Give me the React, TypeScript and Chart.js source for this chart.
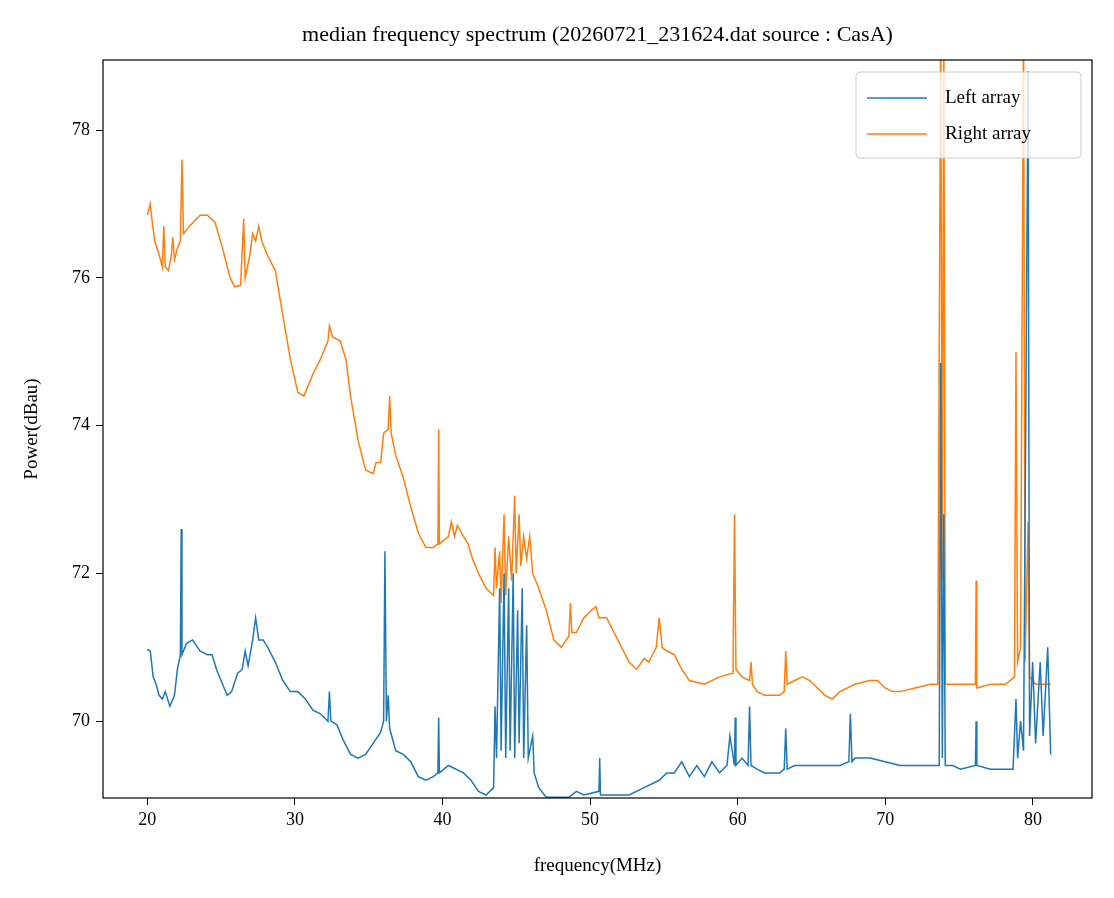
import React, { useEffect, useRef } from "react";
import { Chart, registerables } from "chart.js";
Chart.register(...registerables);

const leftFreq = [20.0,20.2,20.4,20.6,20.8,21.02,21.22,21.53,21.84,22.04,22.24,22.3,22.35,22.65,23.06,23.57,24.08,24.39,24.69,25.1,25.41,25.71,26.12,26.43,26.63,26.83,27.14,27.34,27.55,27.85,28.16,28.67,29.18,29.69,30.2,30.71,31.22,31.73,32.24,32.34,32.44,32.85,33.26,33.77,34.28,34.79,35.3,35.81,36.01,36.1,36.2,36.32,36.42,36.83,37.34,37.85,38.36,38.87,39.38,39.69,39.74,39.79,40.4,41.42,41.93,42.44,42.95,43.46,43.56,43.66,43.87,43.97,44.17,44.28,44.48,44.58,44.79,44.89,45.09,45.19,45.4,45.5,45.7,45.81,46.11,46.21,46.52,47.03,47.54,48.56,49.07,49.58,50.6,50.65,50.7,51.62,52.64,53.66,54.68,55.19,55.7,56.21,56.72,57.23,57.74,58.25,58.76,59.27,59.47,59.78,59.83,59.88,60.29,60.7,60.8,60.9,61.31,61.82,62.84,63.15,63.25,63.35,63.86,64.88,65.9,66.92,67.53,67.63,67.74,67.94,68.96,69.98,71.0,72.02,73.04,73.65,73.75,73.86,73.96,74.06,74.57,75.08,76.1,76.15,76.2,77.12,78.14,78.65,78.85,78.96,79.16,79.36,79.67,79.77,79.98,80.18,80.49,80.69,81.0,81.2];
const leftPower = [70.97,70.95,70.6,70.5,70.35,70.3,70.4,70.2,70.35,70.7,70.9,72.6,70.9,71.05,71.1,70.95,70.9,70.9,70.7,70.5,70.35,70.4,70.65,70.7,70.95,70.75,71.1,71.4,71.1,71.1,71.0,70.8,70.55,70.4,70.4,70.3,70.15,70.1,70.0,70.4,70.0,69.95,69.75,69.55,69.5,69.55,69.7,69.85,70.0,72.3,70.0,70.35,69.9,69.6,69.55,69.45,69.25,69.2,69.25,69.3,70.05,69.3,69.4,69.3,69.2,69.05,69.0,69.1,70.2,69.5,71.8,69.6,72.0,69.5,71.8,69.6,72.0,69.5,71.5,69.7,71.8,69.5,71.3,69.5,69.8,69.3,69.1,68.97,68.97,68.97,69.05,69.0,69.05,69.5,69.0,69.0,69.0,69.1,69.2,69.3,69.3,69.45,69.25,69.4,69.25,69.45,69.3,69.4,69.8,69.4,70.05,69.4,69.5,69.4,70.2,69.4,69.35,69.3,69.3,69.35,69.9,69.35,69.4,69.4,69.4,69.4,69.45,70.1,69.45,69.5,69.5,69.45,69.4,69.4,69.4,69.4,74.85,69.5,72.8,69.4,69.4,69.35,69.4,70.0,69.4,69.35,69.35,69.35,70.3,69.5,70.0,69.6,78.8,69.8,70.8,69.7,70.8,69.8,71.0,69.55];

const rightFreq = [20.0,20.2,20.31,20.51,20.82,21.02,21.12,21.22,21.43,21.63,21.73,21.84,22.04,22.24,22.35,22.45,22.86,23.57,24.08,24.59,25.1,25.61,25.92,26.32,26.53,26.63,26.94,27.14,27.34,27.55,27.75,28.16,28.67,29.18,29.69,30.2,30.61,31.22,31.73,32.24,32.34,32.55,33.06,33.46,33.77,34.28,34.79,35.3,35.5,35.81,36.01,36.32,36.42,36.52,36.83,37.34,37.85,38.36,38.87,39.38,39.69,39.74,39.79,40.4,40.6,40.81,41.01,41.42,41.73,42.03,42.44,42.95,43.46,43.56,43.66,43.87,43.97,44.17,44.28,44.48,44.68,44.89,44.99,45.19,45.3,45.5,45.7,45.91,46.11,46.52,47.03,47.54,48.05,48.56,48.66,48.76,49.07,49.58,50.09,50.39,50.6,51.11,51.62,52.13,52.64,53.15,53.66,53.97,54.48,54.68,54.88,55.19,55.7,56.21,56.72,57.74,58.76,59.68,59.78,59.88,60.29,60.8,60.9,61.0,61.31,61.82,62.84,63.15,63.25,63.35,63.86,64.37,64.88,65.9,66.41,66.92,67.94,68.96,69.47,69.98,70.49,71.0,72.02,73.04,73.55,73.75,73.86,73.96,74.06,74.57,75.08,75.59,76.1,76.15,76.2,77.12,78.14,78.75,78.85,78.96,79.16,79.36,79.47,79.67,79.77,80.18,80.69,81.2];
const rightPower = [76.85,77.0,76.8,76.5,76.3,76.15,76.7,76.15,76.1,76.3,76.55,76.25,76.4,76.5,77.6,76.6,76.7,76.85,76.85,76.75,76.4,76.0,75.88,75.9,76.8,76.0,76.3,76.6,76.5,76.7,76.5,76.3,76.1,75.5,74.9,74.45,74.4,74.7,74.9,75.15,75.35,75.2,75.15,74.9,74.4,73.8,73.4,73.35,73.5,73.5,73.9,73.95,74.4,73.9,73.6,73.3,72.9,72.55,72.35,72.35,72.4,73.95,72.4,72.5,72.7,72.5,72.65,72.5,72.4,72.2,72.0,71.8,71.7,72.35,71.8,72.3,71.6,72.8,71.7,72.5,71.9,73.05,72.0,72.8,72.1,72.5,72.2,72.5,72.0,71.8,71.5,71.1,71.0,71.15,71.6,71.2,71.2,71.4,71.5,71.55,71.4,71.4,71.2,71.0,70.8,70.7,70.85,70.8,71.0,71.4,71.0,70.95,70.9,70.7,70.55,70.5,70.6,70.65,72.8,70.7,70.6,70.55,70.8,70.5,70.4,70.35,70.35,70.4,70.95,70.5,70.55,70.6,70.55,70.35,70.3,70.4,70.5,70.55,70.55,70.45,70.4,70.4,70.45,70.5,70.5,79.5,71.9,79.5,70.5,70.5,70.5,70.5,70.5,71.9,70.45,70.5,70.5,70.6,75.0,70.8,71.0,79.5,70.8,72.7,70.6,70.5,70.5,70.5];

const xTicks = [20, 30, 40, 50, 60, 70, 80];
const yTicks = [70, 72, 74, 76, 78];
const FONT = "'Liberation Serif', 'DejaVu Serif', serif";

export default function App() {
  const ref = useRef<HTMLCanvasElement>(null);
  useEffect(() => {
    const deco = {
      id: "deco",
      afterDatasetsDraw(chart: any) {
        const { ctx, chartArea: a } = chart;
        ctx.save();
        ctx.strokeStyle = "#000";
        ctx.lineWidth = 1.2;
        ctx.strokeRect(a.left, a.top, a.right - a.left, a.bottom - a.top);
        ctx.fillStyle = "rgba(255,255,255,0.8)";
        ctx.strokeStyle = "#ccc";
        ctx.lineWidth = 1;
        const lx = 856, ly = 72, lw = 225, lh = 86;
        ctx.beginPath();
        (ctx as any).roundRect(lx, ly, lw, lh, 4);
        ctx.fill();
        ctx.stroke();
        const items: [string, string, number][] = [["Left array", "#1f77b4", 98], ["Right array", "#ff7f0e", 134]];
        ctx.font = `19px ${FONT}`;
        ctx.textBaseline = "middle";
        for (const [t, c, y] of items) {
          ctx.strokeStyle = c;
          ctx.lineWidth = 1.6;
          ctx.beginPath();
          ctx.moveTo(867, y);
          ctx.lineTo(927, y);
          ctx.stroke();
          ctx.fillStyle = "#000";
          ctx.fillText(t, 945, y);
        }
        ctx.textAlign = "center";
        ctx.font = `22px ${FONT}`;
        ctx.fillText("median frequency spectrum (20260721_231624.dat source : CasA)", (a.left + a.right) / 2, 35);
        ctx.font = `19px ${FONT}`;
        ctx.fillText("frequency(MHz)", (a.left + a.right) / 2, 866);
        ctx.translate(32, (a.top + a.bottom) / 2);
        ctx.rotate(-Math.PI / 2);
        ctx.fillText("Power(dBau)", 0, 0);
        ctx.restore();
      },
    };
    const chart = new Chart(ref.current!, {
      type: "line",
      data: {
        datasets: [
          { label: "Left array", data: leftFreq.map((x, i) => ({ x, y: leftPower[i] })), borderColor: "#1f77b4", borderWidth: 1.5, pointRadius: 0, tension: 0 },
          { label: "Right array", data: rightFreq.map((x, i) => ({ x, y: rightPower[i] })), borderColor: "#ff7f0e", borderWidth: 1.5, pointRadius: 0, tension: 0 },
        ],
      },
      options: {
        responsive: false,
        animation: false,
        devicePixelRatio: 1,
        layout: { padding: { top: 60, right: 22, left: 0, bottom: 0 } },
        plugins: { legend: { display: false }, tooltip: { enabled: false } },
        scales: {
          x: {
            type: "linear",
            min: 17,
            max: 84,
            afterBuildTicks: (s: any) => { s.ticks = xTicks.map((v) => ({ value: v })); },
            afterFit: (s: any) => { s.height = 100; },
            grid: { drawOnChartArea: false, drawTicks: true, tickLength: 7, color: "#000" },
            border: { display: false },
            ticks: { color: "#000", font: { family: FONT, size: 18 }, padding: 4, maxRotation: 0 },
          },
          y: {
            type: "linear",
            min: 68.96,
            max: 78.95,
            afterBuildTicks: (s: any) => { s.ticks = yTicks.map((v) => ({ value: v })); },
            afterFit: (s: any) => { s.width = 103; },
            grid: { drawOnChartArea: false, drawTicks: true, tickLength: 7, color: "#000" },
            border: { display: false },
            ticks: { color: "#000", font: { family: FONT, size: 18 }, padding: 6 },
          },
        },
      },
      plugins: [deco],
    } as any);
    return () => chart.destroy();
  }, []);
  return (
    <div style={{ position: "fixed", left: 0, top: 0, width: 1114, height: 898, background: "#fff" }}>
      <canvas ref={ref} width={1114} height={898} />
    </div>
  );
}
